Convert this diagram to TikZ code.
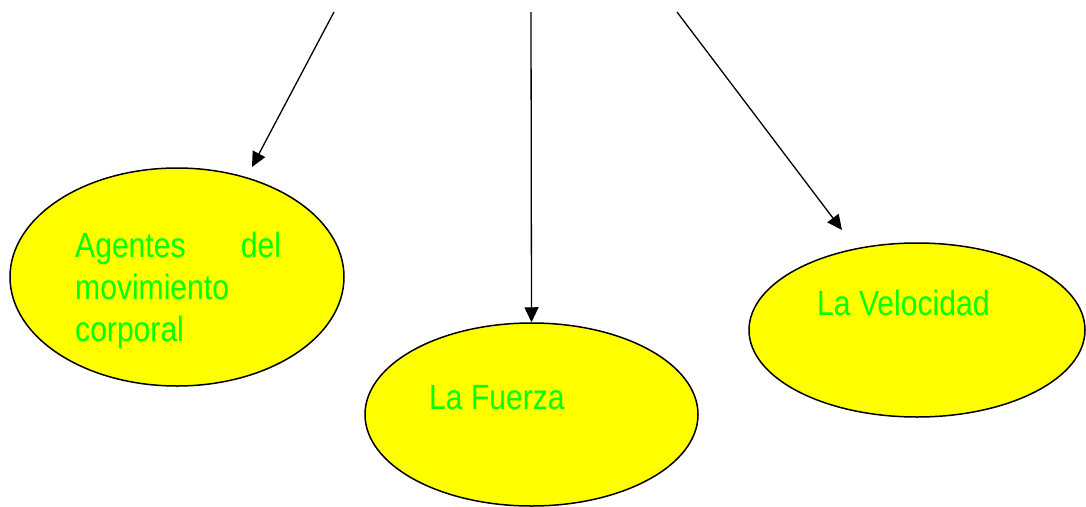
\documentclass[tikz,border=0pt]{standalone}
\usepackage{fontspec}
\setmainfont{Liberation Sans}
\newfontfamily\labelfont[FakeStretch=0.86]{Liberation Sans}
\usetikzlibrary{shapes.geometric,arrows.meta}
\definecolor{bubblefill}{RGB}{255,255,0}
\definecolor{labelgreen}{RGB}{0,255,0}
\tikzset{
  bubble/.style={ellipse, draw=black, line width=1.5pt, fill=bubblefill, inner sep=0pt},
  label text/.style={inner sep=0pt, anchor=base west, text=labelgreen,
    font=\labelfont\fontsize{35}{42}\selectfont},
  link/.style={line width=1.3pt, -{Triangle[length=15pt,width=14pt]}}
}
\begin{document}
\begin{tikzpicture}[x=1pt,y=-1pt]
  \useasboundingbox (0,0) rectangle (1086,506);

  % three concept bubbles
  \node[bubble, minimum width=334pt, minimum height=218pt] (agentes) at (177,277) {};
  \node[bubble, minimum width=333pt, minimum height=183pt] (fuerza) at (531.5,414.5) {};
  \node[bubble, minimum width=336pt, minimum height=174pt] (velocidad) at (917,330) {};

  % their labels
  \node[label text] (tagentes) at (75,257.5)
    {\parbox[t]{206pt}{\makebox[206pt][s]{Agentes del}\\movimiento\\corporal}};
  \node[label text] (tfuerza) at (429,409) {La Fuerza};
  \node[label text] (tvelocidad) at (817,315) {La Velocidad};

  % incoming connectors from above
  \coordinate (s1) at (334,12);
  \coordinate (s2) at (531,12);
  \coordinate (s3) at (677,12);
  \coordinate (e1) at (252,167);
  \coordinate (e3) at (842,230);
  \draw[link] (s1) -- (e1);
  \draw[link] (s2) -- (fuerza.north);
  \draw[link] (s3) -- (e3);
\end{tikzpicture}
\end{document}
